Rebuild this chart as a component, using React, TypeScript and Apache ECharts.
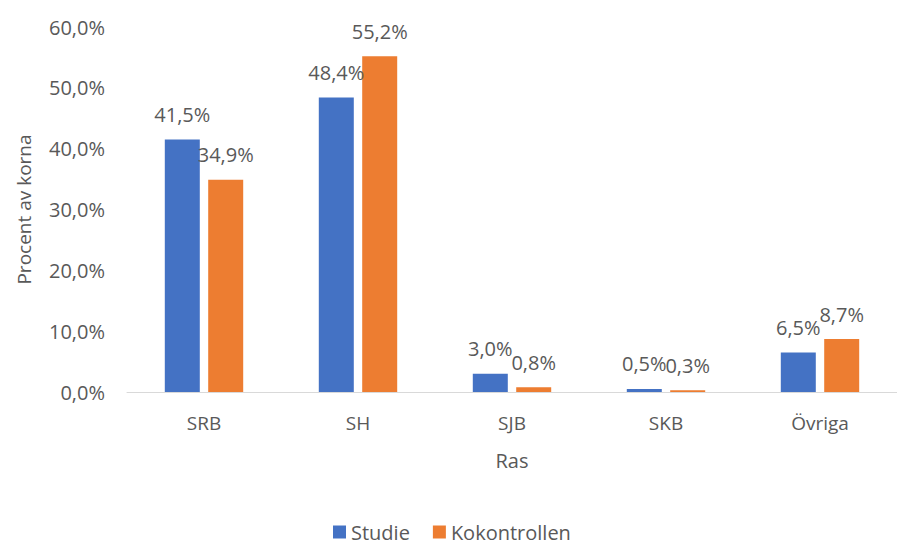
import React, { useEffect, useRef } from "react";
import * as echarts from "echarts";

const categories = ["SRB", "SH", "SJB", "SKB", "Övriga"];
const studie = [41.5, 48.4, 3.0, 0.5, 6.5];
const kokontrollen = [34.9, 55.2, 0.8, 0.3, 8.7];
const seriesNames = ["Studie", "Kokontrollen"];
const yTicks = [0, 10, 20, 30, 40, 50, 60];

const FONT = "Open Sans";
const GREY = "#595959";

const fmt = (v: number) => v.toFixed(1).replace(".", ",") + "%";

export default function App() {
  const ref = useRef<HTMLDivElement>(null);
  useEffect(() => {
    document.body.style.margin = "0";
    const chart = echarts.init(ref.current!, null, { renderer: "svg" });
    const labelCommon = {
      show: true,
      position: "top" as const,
      distance: 15,
      color: GREY,
      fontFamily: FONT,
      fontSize: 20,
      formatter: (p: any) => fmt(p.value),
    };
    chart.setOption({
      animation: false,
      textStyle: { fontFamily: FONT },
      grid: { left: 127, top: 27, width: 775, height: 365, containLabel: false },
      legend: {
        data: seriesNames,
        left: 333,
        top: 522,
        itemWidth: 13,
        itemHeight: 13,
        itemGap: 23,
        icon: "rect",
        padding: 0,
        textStyle: { color: GREY, fontFamily: FONT, fontSize: 20, lineHeight: 20 },
      },
      xAxis: {
        type: "category",
        data: categories,
        name: "Ras",
        nameLocation: "middle",
        nameGap: 58,
        nameTextStyle: { color: GREY, fontFamily: FONT, fontSize: 20 },
        axisLine: { lineStyle: { color: "#d9d9d9", width: 1 } },
        axisTick: { show: false },
        axisLabel: { color: GREY, fontFamily: FONT, fontSize: 19, margin: 21 },
      },
      yAxis: {
        type: "value",
        min: yTicks[0],
        max: yTicks[yTicks.length - 1],
        interval: 10,
        name: "Procent av korna",
        nameLocation: "middle",
        nameGap: 94,
        nameTextStyle: { color: GREY, fontFamily: FONT, fontSize: 19 },
        splitLine: { show: false },
        axisLine: { show: false },
        axisTick: { show: false },
        axisLabel: { color: GREY, fontFamily: FONT, fontSize: 20, margin: 22, formatter: (v: number) => fmt(v) },
      },
      series: [
        {
          name: seriesNames[0],
          type: "bar",
          data: studie,
          barWidth: 35,
          barGap: "24%",
          itemStyle: { color: "#4472C4" },
          label: labelCommon,
        },
        {
          name: seriesNames[1],
          type: "bar",
          data: kokontrollen,
          barWidth: 35,
          barGap: "24%",
          itemStyle: { color: "#ED7D31" },
          label: labelCommon,
        },
      ],
    });
    return () => chart.dispose();
  }, []);
  return <div ref={ref} style={{ width: 897, height: 544 }} />;
}
